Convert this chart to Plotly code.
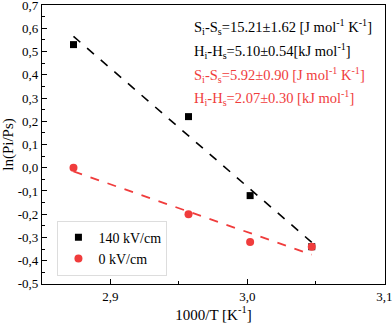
import numpy as np
import plotly.graph_objects as go

# data
inv_t = [2.873, 2.957, 3.002, 3.047]
ln_p_140 = [0.53, 0.22, -0.12, -0.34]
ln_p_0 = [0.0, -0.20, -0.32, -0.34]

y_ticks = [0.7, 0.6, 0.5, 0.4, 0.3, 0.2, 0.1, 0.0, -0.1, -0.2, -0.3, -0.4, -0.5]
y_labels = ["0,7", "0,6", "0,5", "0,4", "0,3", "0,2", "0,1", "0,0",
            "-0,1", "-0,2", "-0,3", "-0,4", "-0,5"]
x_ticks = [2.9, 3.0, 3.1]
x_labels = ["2,9", "3,0", "3,1"]

black_notes = ["S<sub>i</sub>-S<sub>s</sub>=15.21±1.62 [J mol<sup>-1</sup> K<sup>-1</sup>]",
               "H<sub>i</sub>-H<sub>s</sub>=5.10±0.54[kJ mol<sup>-1</sup>]"]
red_notes = ["S<sub>i</sub>-S<sub>s</sub>=5.92±0.90 [J mol<sup>-1</sup> K<sup>-1</sup>]",
             "H<sub>i</sub>-H<sub>s</sub>=2.07±0.30 [kJ mol<sup>-1</sup>]"]

RED = "#f03c3c"
FONT = "Liberation Serif"

x = np.array(inv_t)
fit_140 = np.polyval(np.polyfit(x, ln_p_140, 1), x)
fit_0 = np.polyval(np.polyfit(x, ln_p_0, 1), x)

fig = go.Figure()

# fitted lines first so markers sit on top
fig.add_trace(go.Scatter(x=x, y=fit_140, mode="lines", showlegend=False,
                         line=dict(color="black", width=1.6, dash="dash")))
fig.add_trace(go.Scatter(x=x, y=fit_0, mode="lines", showlegend=False,
                         line=dict(color=RED, width=1.8, dash="dash")))

fig.add_trace(go.Scatter(x=inv_t, y=ln_p_140, mode="markers", name="140 kV/cm",
                         marker=dict(symbol="square", size=7, color="black")))
fig.add_trace(go.Scatter(x=inv_t, y=ln_p_0, mode="markers", name="0 kV/cm",
                         marker=dict(symbol="circle", size=8, color=RED)))

# entropy / enthalpy notes
for i, t in enumerate(black_notes + red_notes):
    fig.add_annotation(text=t, xref="paper", yref="paper", x=0.438, y=0.92 - i * 0.085,
                       xanchor="left", yanchor="middle", showarrow=False,
                       font=dict(family=FONT, size=14.5, color="black" if i < 2 else RED))

axis_common = dict(showline=True, linecolor="black", linewidth=1.2, mirror=True,
                   ticks="inside", ticklen=5, tickcolor="black", showgrid=False,
                   zeroline=False, ticklabeloverflow="allow",
                   tickfont=dict(family=FONT, size=13, color="black"))

fig.update_xaxes(range=[2.85, 3.1005], tickvals=x_ticks, ticktext=x_labels,
                 minor=dict(ticks="inside", ticklen=3, dtick=0.05, tickcolor="black"),
                 title=dict(text="1000/T [K<sup>-1</sup>]", standoff=6,
                            font=dict(family=FONT, size=15, color="black")),
                 **axis_common)
fig.update_yaxes(range=[-0.5005, 0.7005], tickvals=y_ticks, ticktext=y_labels,
                 minor=dict(ticks="inside", ticklen=3, dtick=0.05, tickcolor="black"),
                 title=dict(text="ln(Pi/Ps)", standoff=4,
                            font=dict(family=FONT, size=15, color="black")),
                 **axis_common)

fig.update_layout(
    width=392, height=328,
    margin=dict(l=42, r=7, t=5, b=44, autoexpand=False),
    plot_bgcolor="white", paper_bgcolor="white",
    legend=dict(x=0.045, y=0.03, xanchor="left", yanchor="bottom",
                bordercolor="#dddddd", borderwidth=1, bgcolor="white",
                font=dict(family=FONT, size=14, color="black"),
                itemwidth=30, tracegroupgap=0),
)

fig.write_html("out.html", config={"displayModeBar": False},
               post_script="document.body.style.margin='0';")
